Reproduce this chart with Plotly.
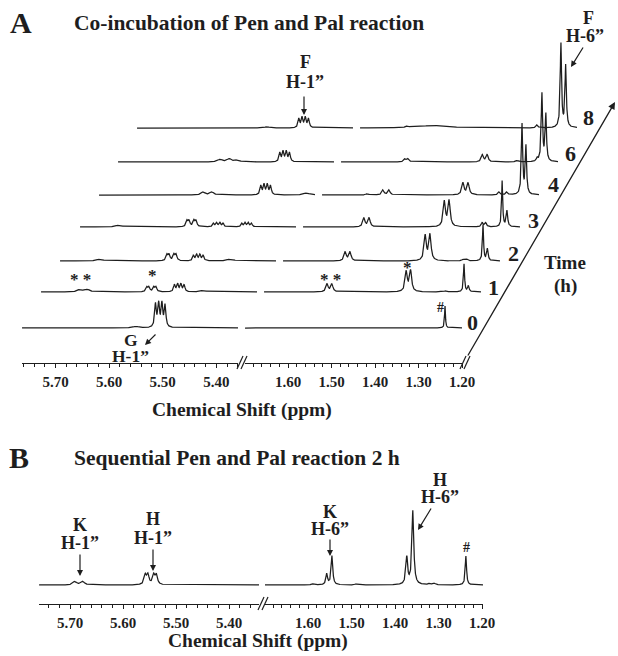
import numpy as np
import plotly.graph_objects as go

# ======================= DATA =======================
TIME_LABELS = ["0", "1", "2", "3", "4", "6", "8"]
TICKS_H1 = [5.70, 5.60, 5.50, 5.40]
TICKS_H6 = [1.60, 1.50, 1.40, 1.30, 1.20]

# peaks: (ppm, intensity, half-width in ppm)
H1_0H = [(5.550, 1.5, 0.006), (5.5135, 23, 0.0018), (5.5075, 23, 0.0018),
         (5.5015, 23, 0.0018), (5.4955, 22, 0.0018)]
H6_0H = [(1.239, 22, 0.0012)]

H1_1H = [(5.690, 2.5, 0.005), (5.676, 2.5, 0.005),
         (5.565, 4.5, 0.002), (5.561, 4.5, 0.002), (5.552, 4.5, 0.002), (5.548, 4.5, 0.002),
         (5.5135, 7, 0.0018), (5.5075, 7.5, 0.0018), (5.5015, 7.5, 0.0018), (5.4955, 7, 0.0018),
         (5.460, 1.5, 0.006)]
H6_1H = [(1.554, 8, 0.003), (1.543, 8, 0.003),
         (1.372, 20, 0.003), (1.362, 21, 0.003),
         (1.288, 1.2, 0.003), (1.280, 1.2, 0.003),
         (1.239, 28, 0.0015), (1.229, 6, 0.002)]

H1_2H = [(5.688, 2, 0.006),
         (5.563, 6, 0.002), (5.559, 6, 0.002), (5.550, 6, 0.002), (5.546, 6, 0.002),
         (5.5135, 5.5, 0.0018), (5.5075, 6, 0.0018), (5.5015, 6, 0.0018), (5.4955, 5.5, 0.0018),
         (5.445, 2, 0.007)]
H6_2H = [(1.556, 9, 0.003), (1.545, 9, 0.003),
         (1.372, 25, 0.003), (1.361, 26, 0.003),
         (1.285, 1.5, 0.003), (1.276, 1.5, 0.003),
         (1.239, 36, 0.0015), (1.229, 12, 0.002)]

H1_3H = [(5.690, 2, 0.006),
         (5.563, 6, 0.002), (5.559, 6, 0.002), (5.550, 6, 0.002), (5.546, 6, 0.002),
         (5.5135, 3.5, 0.0018), (5.5075, 4, 0.0018), (5.5015, 4, 0.0018), (5.4955, 3.5, 0.0018),
         (5.4605, 3.5, 0.0018), (5.4545, 4, 0.0018), (5.4485, 4, 0.0018), (5.4425, 3.5, 0.0018)]
H6_3H = [(1.559, 9, 0.003), (1.547, 9, 0.003),
         (1.374, 25, 0.003), (1.363, 26, 0.003),
         (1.287, 4, 0.0025), (1.279, 4, 0.0025),
         (1.241, 46, 0.0015), (1.230, 16, 0.002)]

H1_4H = [(5.568, 3, 0.004), (5.552, 3, 0.004),
         (5.4605, 9, 0.0018), (5.4545, 10, 0.0018), (5.4485, 10, 0.0018), (5.4425, 9, 0.0018),
         (5.375, 2, 0.006)]
H6_4H = [(1.595, 1.5, 0.003),
         (1.559, 5, 0.003), (1.545, 5, 0.003),
         (1.375, 12, 0.003), (1.363, 12, 0.003),
         (1.292, 3, 0.0025), (1.274, 3, 0.0025),
         (1.239, 70, 0.0018), (1.230, 48, 0.0018)]

H1_6H = [(5.572, 2.5, 0.005), (5.555, 3, 0.005), (5.540, 2, 0.005),
         (5.4605, 9, 0.0018), (5.4545, 10, 0.0018), (5.4485, 10, 0.0018), (5.4425, 9, 0.0018)]
H6_6H = [(1.552, 3, 0.003), (1.545, 3, 0.003),
         (1.374, 7, 0.003), (1.363, 7, 0.003),
         (1.294, 1.5, 0.003), (1.248, 3, 0.002),
         (1.237, 68, 0.0018), (1.228, 47, 0.0018)]

H1_8H = [(5.520, 1.2, 0.006),
         (5.4605, 9, 0.0018), (5.4545, 10, 0.0018), (5.4485, 10, 0.0018), (5.4425, 9, 0.0018)]
H6_8H = [(1.590, 1.5, 0.003), (1.530, 2.5, 0.04),
         (1.292, 3, 0.0025),
         (1.237, 84, 0.0018), (1.226, 62, 0.0018)]

H1_SEQ = [(5.691, 3.5, 0.004), (5.676, 3.5, 0.004),
          (5.558, 9.5, 0.0025), (5.553, 9.5, 0.0025), (5.542, 9.5, 0.0025), (5.537, 9.5, 0.0025)]
H6_SEQ = [(1.590, 1, 0.004), (1.490, 1, 0.003),
          (1.557, 11, 0.0022), (1.545, 29, 0.0022),
          (1.373, 27, 0.0025), (1.359, 74, 0.0025),
          (1.320, 1.5, 0.003), (1.310, 1.5, 0.003),
          (1.237, 29, 0.0018)]

H1_SERIES = [H1_0H, H1_1H, H1_2H, H1_3H, H1_4H, H1_6H, H1_8H]
H6_SERIES = [H6_0H, H6_1H, H6_2H, H6_3H, H6_4H, H6_6H, H6_8H]

# ======================= LAYOUT =======================
W, H = 618, 656
INK = "#1e1e1e"
SERIF = "Liberation Serif"


def px(x):
    return x / W


def py(y):
    return 1 - y / H


# panel A geometry (pixels)
A_AXIS_Y = 363
A_LEFT_DOM = (22, 238)
A_RIGHT_DOM = (245, 462)
A_LEFT_RANGE = [5.7625, 5.3595]
A_RIGHT_RANGE = [1.699, 1.200]
STACK_DX = [0, 19, 38, 58, 77, 96, 115]
STACK_BASE = [328, 292, 261, 227, 195, 162, 128]

# panel B geometry
B_AXIS_Y = 604
B_BASE = 585
B_LEFT_DOM = (39, 259)
B_RIGHT_DOM = (265, 483)
B_LEFT_RANGE = [5.7585, 5.3434]
B_RIGHT_RANGE = [1.699, 1.1977]

layout = dict(width=W, height=H, margin=dict(l=0, r=0, t=0, b=0),
              paper_bgcolor="white", plot_bgcolor="rgba(0,0,0,0)",
              showlegend=False, template="none")
counter = {"x": 0, "y": 0}
TICKFONT = dict(family=SERIF, size=15, color=INK, weight="bold")


def add_y(base):
    counter["y"] += 1
    k = counter["y"]
    name = "yaxis" if k == 1 else f"yaxis{k}"
    layout[name] = dict(domain=[py(base + 10), py(base - 100)], range=[-10, 100],
                        visible=False, fixedrange=True, showgrid=False, zeroline=False)
    return "y" if k == 1 else f"y{k}"


def add_x(dom, rng, yref, visible=False, pos=None, ticks=None):
    counter["x"] += 1
    k = counter["x"]
    name = "xaxis" if k == 1 else f"xaxis{k}"
    ax = dict(domain=[px(dom[0]), px(dom[1])], range=rng, showgrid=False,
              zeroline=False, fixedrange=True)
    if visible:
        ax.update(anchor="free", position=pos, showline=True, linecolor=INK, linewidth=1.3,
                  ticks="outside", ticklen=4, tickwidth=1, tickcolor=INK,
                  tickmode="array", tickvals=ticks, ticktext=[f"{t:.2f}" for t in ticks],
                  tickfont=TICKFONT, ticklabelstandoff=1,
                  minor=dict(tickmode="linear", tick0=1.20, dtick=0.02, ticks="outside",
                             ticklen=3, tickwidth=1, tickcolor=INK, showgrid=False))
    else:
        ax.update(visible=False, anchor=yref)
    layout[name] = ax
    return "x" if k == 1 else f"x{k}"


def spectrum(grid, peaks):
    y = np.zeros_like(grid)
    for c, h, g in peaks:
        y += h / (1.0 + ((grid - c) / g) ** 2)
    return y


fig = go.Figure()
LINE = dict(color=INK, width=1.25)

grid_l = np.arange(A_LEFT_RANGE[1], A_LEFT_RANGE[0], 0.0003)
grid_r = np.arange(A_RIGHT_RANGE[1], A_RIGHT_RANGE[0], 0.0003)

for i in range(len(TIME_LABELS)):
    dx, base = STACK_DX[i], STACK_BASE[i]
    yref = add_y(base)
    vis = (i == 0)
    xl = add_x((A_LEFT_DOM[0] + dx, A_LEFT_DOM[1] + dx), A_LEFT_RANGE, yref,
               visible=vis, pos=py(A_AXIS_Y), ticks=TICKS_H1)
    xr = add_x((A_RIGHT_DOM[0] + dx, A_RIGHT_DOM[1] + dx), A_RIGHT_RANGE, yref,
               visible=vis, pos=py(A_AXIS_Y), ticks=TICKS_H6)
    fig.add_trace(go.Scatter(x=grid_l, y=spectrum(grid_l, H1_SERIES[i]), xaxis=xl, yaxis=yref,
                             mode="lines", line=LINE, hoverinfo="skip"))
    fig.add_trace(go.Scatter(x=grid_r, y=spectrum(grid_r, H6_SERIES[i]), xaxis=xr, yaxis=yref,
                             mode="lines", line=LINE, hoverinfo="skip"))

# panel B
yb = add_y(B_BASE)
xbl = add_x(B_LEFT_DOM, B_LEFT_RANGE, yb, visible=True, pos=py(B_AXIS_Y), ticks=TICKS_H1)
xbr = add_x(B_RIGHT_DOM, B_RIGHT_RANGE, yb, visible=True, pos=py(B_AXIS_Y), ticks=TICKS_H6)
gbl = np.arange(B_LEFT_RANGE[1], B_LEFT_RANGE[0], 0.0003)
gbr = np.arange(B_RIGHT_RANGE[1], B_RIGHT_RANGE[0], 0.0003)
fig.add_trace(go.Scatter(x=gbl, y=spectrum(gbl, H1_SEQ), xaxis=xbl, yaxis=yb,
                         mode="lines", line=LINE, hoverinfo="skip"))
fig.add_trace(go.Scatter(x=gbr, y=spectrum(gbr, H6_SEQ), xaxis=xbr, yaxis=yb,
                         mode="lines", line=LINE, hoverinfo="skip"))

# ---------------- annotations ----------------
ann = []
shapes = []


def txt(x, y, s, size, xanchor="center"):
    ann.append(dict(x=px(x), y=py(y), xref="paper", yref="paper", text=s, showarrow=False,
                    xanchor=xanchor, yanchor="middle",
                    font=dict(family=SERIF, size=size, color=INK, weight="bold")))


def arrow(x0, y0, x1, y1, width=1.2, head=2, size=1.0):
    ann.append(dict(x=px(x1), y=py(y1), xref="paper", yref="paper", ax=x0 - x1, ay=y0 - y1,
                    axref="pixel", ayref="pixel", text="", showarrow=True,
                    arrowhead=head, arrowsize=size, arrowwidth=width, arrowcolor=INK,
                    standoff=0, startstandoff=0))


def slash(x, y):
    for off in (0, 4):
        shapes.append(dict(type="line", xref="paper", yref="paper",
                           x0=px(x - 3 + off), y0=py(y + 6), x1=px(x + 3 + off), y1=py(y - 7),
                           line=dict(color=INK, width=1.2)))


# panel A headings
txt(21, 23, "A", 30)
txt(72, 23, "Co-incubation of Pen and Pal reaction", 21.5, xanchor="left")
txt(242, 410, "Chemical Shift (ppm)", 19.5)

# time stack labels
TIME_POS = [(472, 322), (493, 287), (513, 253), (533, 220), (553, 185), (570, 153), (588, 117)]
for lab, (x, y) in zip(TIME_LABELS, TIME_POS):
    txt(x, y, lab, 22)
txt(565, 262, "Time", 19)
txt(565, 286, "(h)", 19)
arrow(467, 357, 615, 102, width=1.3, head=2, size=1.1)

# peak labels, panel A
txt(305, 62, "F", 18)
txt(305, 82, "H-1\u201d", 18)
arrow(304, 95, 304, 115)
txt(588, 18, "F", 18)
txt(585, 36, "H-6\u201d", 18)
arrow(584, 46, 571, 67)
txt(131, 340, "G", 17.5)
txt(130, 356, "H-1\u201d", 17.5)
arrow(157, 333, 145, 345)
txt(80, 279, "* *", 17)
txt(152, 275, "*", 17)
txt(330, 279, "* *", 17)
txt(407, 268, "*", 17)
txt(440, 307, "#", 14)

# breaks
slash(240, A_AXIS_Y)
slash(463, A_AXIS_Y)
slash(261, B_AXIS_Y)

# panel B headings and labels
txt(19, 458, "B", 30)
txt(72, 458, "Sequential Pen and Pal reaction 2 h", 21.5, xanchor="left")
txt(258, 641, "Chemical Shift (ppm)", 19.5)
txt(80, 525, "K", 18)
txt(80, 543, "H-1\u201d", 18)
arrow(80, 553, 80, 576)
txt(153, 519, "H", 18)
txt(153, 538, "H-1\u201d", 18)
arrow(153, 548, 153, 571)
txt(330, 512, "K", 18)
txt(330, 529, "H-6\u201d", 18)
arrow(330, 538, 330, 556)
txt(440, 480, "H", 18)
txt(440, 497, "H-6\u201d", 18)
arrow(432, 507, 418, 530)
txt(466, 547, "#", 14)

layout["annotations"] = ann
layout["shapes"] = shapes
fig.update_layout(**layout)
fig.write_html("out.html", config={"displayModeBar": False},
               post_script="document.body.style.margin='0';document.body.style.overflow='hidden';")
